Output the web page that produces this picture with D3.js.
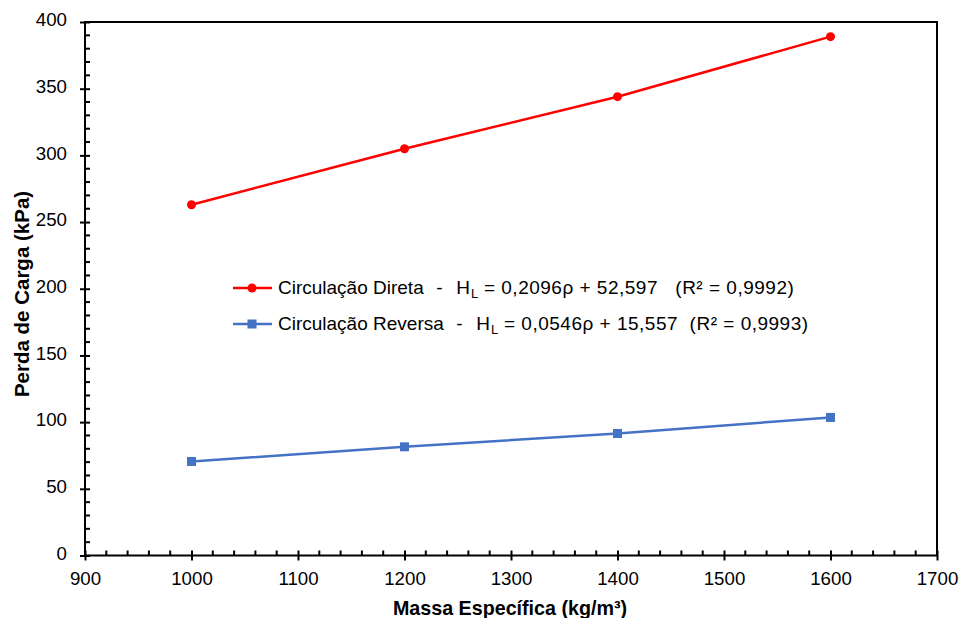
<!DOCTYPE html>
<html>
<head>
<meta charset="utf-8">
<script src="https://cdn.jsdelivr.net/npm/d3@7"></script>
<style>
body { margin: 0; background: #fff; }
svg text { font-family: "Liberation Sans", Arial, sans-serif; }
</style>
</head>
<body>
<div id="chart"></div>
<script>
var densidade = [1000, 1200, 1400, 1600];
var direta = [263, 305, 344, 389];
var reversa = [70.5, 81.5, 91.5, 103.5];
var xTicks = [900, 1000, 1100, 1200, 1300, 1400, 1500, 1600, 1700];
var yTicks = [0, 50, 100, 150, 200, 250, 300, 350, 400];

var width = 963, height = 618;
var mLeft = 85, mRight = 937, mTop = 22, mBottom = 555.5;

var svg = d3.select("#chart").append("svg")
    .attr("width", width)
    .attr("height", height);

var x = d3.scaleLinear().domain([900, 1700]).range([mLeft, mRight]);
var y = d3.scaleLinear().domain([0, 400]).range([mBottom, mTop]);

// frame
svg.append("rect")
    .attr("x", mLeft).attr("y", mTop)
    .attr("width", mRight - mLeft).attr("height", mBottom - mTop)
    .attr("fill", "none").attr("stroke", "#000").attr("stroke-width", 2);

// minor ticks (inside)
svg.selectAll(".ymin").data(d3.range(10, 400, 10).filter(function (d) { return d % 50 != 0; }))
    .enter().append("line")
    .attr("x1", mLeft).attr("x2", mLeft + 5)
    .attr("y1", function (d) { return y(d); }).attr("y2", function (d) { return y(d); })
    .attr("stroke", "#000").attr("stroke-width", 2);
svg.selectAll(".xmin").data(d3.range(920, 1700, 20).filter(function (d) { return d % 100 != 0; }))
    .enter().append("line")
    .attr("x1", function (d) { return x(d); }).attr("x2", function (d) { return x(d); })
    .attr("y1", mBottom).attr("y2", mBottom - 5)
    .attr("stroke", "#000").attr("stroke-width", 2);

// major ticks + labels via axes
var yAxis = svg.append("g")
    .attr("transform", "translate(" + mLeft + ",0)")
    .call(d3.axisLeft(y).tickValues(yTicks).tickFormat(d3.format("d")).tickSizeInner(5).tickSizeOuter(0).tickPadding(13));
var xAxis = svg.append("g")
    .attr("transform", "translate(0," + mBottom + ")")
    .call(d3.axisBottom(x).tickValues(xTicks).tickFormat(d3.format("d")).tickSizeInner(5).tickSizeOuter(0).tickPadding(11));

[yAxis, xAxis].forEach(function (g) {
    g.select(".domain").remove();
    g.selectAll("line").attr("stroke", "#000").attr("stroke-width", 2);
    g.selectAll("text").attr("fill", "#000").style("font-size", "18.7px")
        .style("font-family", '"Liberation Sans", Arial, sans-serif');
});
yAxis.selectAll(".tick line").attr("x1", 5);
yAxis.selectAll("text").attr("dy", "0.2em");
xAxis.selectAll(".tick line").attr("y1", -5);

// series
var series = [
    { values: direta, color: "#ff0000", shape: "circle" },
    { values: reversa, color: "#4472c4", shape: "square" }
];

series.forEach(function (s) {
    var pts = densidade.map(function (d, i) { return [d, s.values[i]]; });
    svg.append("path")
        .datum(pts)
        .attr("fill", "none")
        .attr("stroke", s.color)
        .attr("stroke-width", 2.5)
        .attr("d", d3.line().x(function (p) { return x(p[0]); }).y(function (p) { return y(p[1]); }));
    if (s.shape == "circle") {
        svg.selectAll(null).data(pts).enter().append("circle")
            .attr("cx", function (p) { return x(p[0]); })
            .attr("cy", function (p) { return y(p[1]); })
            .attr("r", 4.5).attr("fill", s.color);
    } else {
        svg.selectAll(null).data(pts).enter().append("rect")
            .attr("x", function (p) { return x(p[0]) - 4.5; })
            .attr("y", function (p) { return y(p[1]) - 4.5; })
            .attr("width", 9).attr("height", 9).attr("fill", s.color);
    }
});

// legend
var legend = [
    { color: "#ff0000", shape: "circle", name: "Circulação Direta", eq: " = 0,2096ρ + 52,597   (R² = 0,9992)", ly: 288 },
    { color: "#4472c4", shape: "square", name: "Circulação Reversa", eq: " = 0,0546ρ + 15,557  (R² = 0,9993)", ly: 324 }
];
legend.forEach(function (l) {
    svg.append("line").attr("x1", 233).attr("x2", 272).attr("y1", l.ly).attr("y2", l.ly)
        .attr("stroke", l.color).attr("stroke-width", 2.5);
    if (l.shape == "circle") {
        svg.append("circle").attr("cx", 252).attr("cy", l.ly).attr("r", 4.5).attr("fill", l.color);
    } else {
        svg.append("rect").attr("x", 247.5).attr("y", l.ly - 4.5).attr("width", 9).attr("height", 9).attr("fill", l.color);
    }
    var t = svg.append("text").attr("x", 278).attr("y", l.ly + 5.5)
        .style("font-size", "19px").attr("fill", "#000").attr("xml:space", "preserve")
        .style("white-space", "pre");
    t.append("tspan").text(l.name);
    t.append("tspan").style("letter-spacing", "1px").text("  -  H");
    t.append("tspan").attr("dy", 4).style("font-size", "13px").text("L");
    t.append("tspan").attr("dy", -4).style("letter-spacing", "0.5px").text(l.eq);
});

// axis titles
svg.append("text")
    .attr("x", 510).attr("y", 615)
    .attr("text-anchor", "middle")
    .style("font-size", "19.7px").style("font-weight", "bold")
    .text("Massa Específica (kg/m³)");
svg.append("text")
    .attr("transform", "translate(28.5,294) rotate(-90)")
    .attr("text-anchor", "middle")
    .style("font-size", "20.5px").style("font-weight", "bold")
    .text("Perda de Carga (kPa)");
</script>
</body>
</html>
